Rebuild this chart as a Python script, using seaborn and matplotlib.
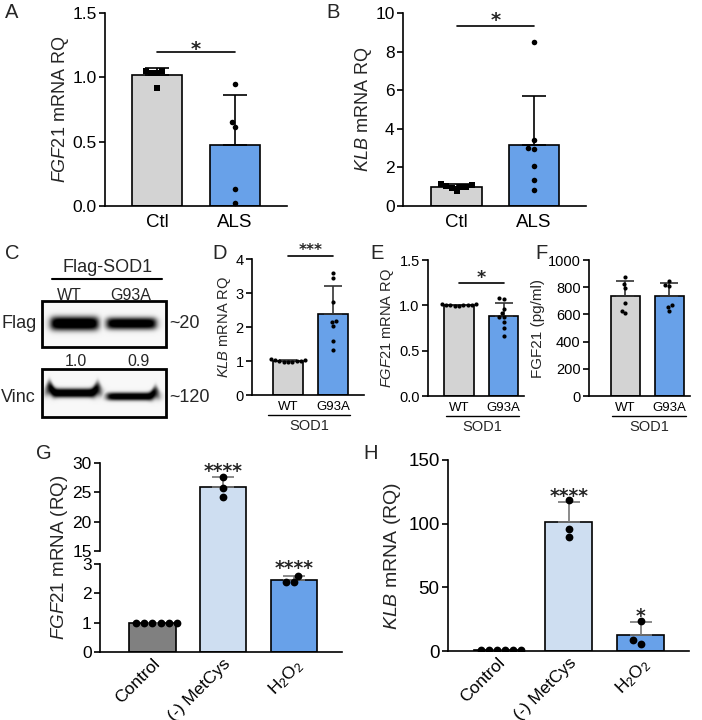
import warnings
warnings.filterwarnings("ignore")
import numpy as np
import pandas as pd
import matplotlib
matplotlib.use("Agg")
import matplotlib.pyplot as plt
import seaborn as sns

# ---------------- data ----------------
A_groups = ["Ctl", "ALS"]
A_ctl = [1.05, 1.03, 1.03, 1.05, 0.915]
A_als = [0.946, 0.616, 0.655, 0.130, 0.026]

B_groups = ["Ctl", "ALS"]
B_ctl = [1.00, 1.10, 0.95, 1.05, 1.15, 0.78, 1.00]
B_als = [8.49, 3.41, 3.03, 2.95, 2.06, 1.37, 0.85]

SOD_groups = ["WT", "G93A"]
D_wt = [1.03, 0.98, 1.00, 0.97, 1.02, 0.99, 1.05, 0.96, 1.00]
D_g93a = [3.59, 3.44, 2.75, 2.18, 2.14, 2.02, 1.59, 1.31]
E_wt = [1.01, 1.00, 0.99, 1.00, 1.01, 1.00, 0.99, 1.00, 1.00]
E_g93a = [1.066, 1.077, 0.956, 0.912, 0.868, 0.868, 0.813, 0.747, 0.659]
F_wt = [876, 824, 795, 684, 611, 625]
F_g93a = [846, 817, 809, 670, 655, 625]

T_groups = ["Control", "(-) MetCys", "H$_2$O$_2$"]
G_ctrl = [1.0, 1.0, 1.0, 1.0, 1.0, 1.0]
G_met = [27.6, 25.74, 24.2]
G_h2o2 = [2.37, 2.60, 2.40]
H_ctrl = [1.0, 1.0, 1.0, 1.0, 1.0, 1.0]
H_met = [118.7, 95.8, 89.6]
H_h2o2 = [23.9, 5.7, 8.3]

blot_lanes = ["WT", "G93A"]
blot_ratio = ["1.0", "0.9"]

# ---------------- style ----------------
GRAY = "#d3d3d3"
BLUE = "#529eff"
LBLUE = "#c8ddf7"
DGRAY = "#808080"

sns.set_theme(style="ticks")
plt.rcParams["font.family"] = ["Liberation Sans", "DejaVu Sans"]
plt.rcParams["mathtext.fontset"] = "custom"
plt.rcParams["mathtext.rm"] = "Liberation Sans"
plt.rcParams["mathtext.it"] = "Liberation Sans:italic"
plt.rcParams["axes.unicode_minus"] = False

W, H = 702, 720
fig = plt.figure(figsize=(W / 100, H / 100), dpi=100)


def rect(l, r, t, b):
    return [l / W, 1 - b / H, (r - l) / W, (b - t) / H]


def make_df(groups, lists):
    return pd.DataFrame({
        "group": np.repeat(groups, [len(v) for v in lists]),
        "value": np.concatenate([np.asarray(v, float) for v in lists]),
    })


def panel(ax, groups, lists, colors, markers, width, dsize, ecolor, capsize):
    df = make_df(groups, lists)
    sns.barplot(data=df, x="group", y="value", hue="group", order=groups,
                hue_order=groups, palette=colors, errorbar=None, width=width,
                edgecolor="black", linewidth=1.2, legend=False, ax=ax, zorder=1)
    st = df.groupby("group", sort=False)["value"].agg(["mean", "std"])
    for i, g in enumerate(groups):
        ax.errorbar(i, st.loc[g, "mean"], yerr=[[0], [st.loc[g, "std"]]],
                    color=ecolor, capsize=capsize, elinewidth=1.2,
                    capthick=1.2, zorder=2)
    for mk in sorted(set(markers)):
        keep = [g for g, m in zip(groups, markers) if m == mk]
        sub = df[df["group"].isin(keep)]
        sns.swarmplot(data=sub, x="group", y="value", order=groups,
                      color="black", marker=mk, size=dsize, ax=ax,
                      zorder=3, linewidth=0)
    ax.set_xlabel("")
    ax.set_ylabel("")
    return df


def style(ax, yfs, xfs, xpad=3):
    sns.despine(ax=ax)
    for s in ("left", "bottom"):
        ax.spines[s].set_linewidth(1.2)
        ax.spines[s].set_color("black")
    ax.tick_params(axis="y", labelsize=yfs, width=1.2, length=4,
                   color="black", labelcolor="black", pad=2)
    ax.tick_params(axis="x", labelsize=xfs, length=0, pad=xpad,
                   labelcolor="black")


def sig(ax, y_line, y_star, text, fs, x0=0, x1=1):
    if y_line is not None:
        ax.plot([x0, x1], [y_line, y_line], color="black", lw=1.2,
                clip_on=False)
    # place the centre of the asterisk glyphs at y_star
    ax.annotate(text, xy=((x0 + x1) / 2, y_star), xytext=(0, -0.62 * fs),
                textcoords="offset points", ha="center", va="baseline",
                fontsize=fs, fontweight="bold", family="DejaVu Sans",
                annotation_clip=False)


# ---------------- A ----------------
axA = fig.add_axes(rect(105, 287, 13, 206))
panel(axA, A_groups, [A_ctl, A_als], [GRAY, BLUE], ["s", "o"], 0.64, 4.0,
      "black", 8.5)
axA.set_xlim(-0.67, 1.67)
axA.set_ylim(0, 1.5)
axA.set_yticks([0, 0.5, 1.0, 1.5])
axA.set_yticklabels(["0.0", "0.5", "1.0", "1.5"])
axA.set_ylabel(r"$\mathit{FGF21}$ mRNA RQ", fontsize=13, labelpad=1)
style(axA, 12.5, 13.5, xpad=6)
sig(axA, 1.196, 1.27, "*", 14)

# ---------------- B ----------------
axB = fig.add_axes(rect(403, 586, 13, 206))
panel(axB, B_groups, [B_ctl, B_als], [GRAY, BLUE], ["s", "o"], 0.65, 4.0,
      "black", 8.5)
axB.set_xlim(-0.69, 1.67)
axB.set_ylim(0, 10)
axB.set_yticks([0, 2, 4, 6, 8, 10])
axB.set_ylabel(r"$\mathit{KLB}$ mRNA RQ", fontsize=13, labelpad=1)
style(axB, 12.5, 13.5, xpad=6)
sig(axB, 9.31, 9.95, "*", 14)

# ---------------- C (blot) ----------------
axC = fig.add_axes(rect(0, 250, 250, 440))
axC.axis("off")


def sigm(z):
    return 1 / (1 + np.exp(-z))


def band(X, Y, x0, x1, yc, half, dark, curl_l=0.0, curl_r=0.0):
    yc_x = (yc - curl_l * np.exp(-((X - x0 - 2) / 4.0) ** 2)
            - curl_r * np.exp(-((X - x1 + 2) / 4.0) ** 2))
    thick = half * (1 + 0.6 * (curl_l > 0) * np.exp(-((X - x0 - 2) / 5.0) ** 2)
                    + 0.6 * (curl_r > 0) * np.exp(-((X - x1 + 2) / 5.0) ** 2))
    prof = np.exp(-np.abs((Y - yc_x) / thick) ** 2.5)
    edge = sigm((X - x0) / 2.0) * sigm((x1 - X) / 2.0)
    return dark * prof * edge


def blot_box(y0, y1, bands):
    xs = np.linspace(42, 166, 372)
    ys = np.linspace(y0, y1, int((y1 - y0) * 3))
    X, Y = np.meshgrid(xs, ys)
    inten = np.zeros_like(X)
    for b in bands:
        inten = np.maximum(inten, band(X, Y, *b))
    img = 0.97 - 0.97 * np.clip(1.25 * inten, 0, 1)
    axC.imshow(img, cmap="gray", vmin=0, vmax=1, extent=(42, 166, y1, y0),
               aspect="auto", interpolation="bilinear", zorder=1)
    axC.add_patch(plt.Rectangle((42, y0), 124, y1 - y0, fill=False,
                                lw=2.0, ec="black", zorder=2))


blot_box(301, 347, [(51, 98, 323.5, 7.0, 1.0), (107, 156, 323.5, 6.0, 0.95)])
blot_box(369, 417, [(47, 100, 393, 4.5, 1.0, 5, 4),
                    (107, 158, 396.5, 4.0, 0.95, 0, 4)])
axC.set_xlim(0, 250)
axC.set_ylim(440, 250)

axC.text(108, 267, "Flag-SOD1", ha="center", va="center", fontsize=13)
axC.plot([52, 162], [279, 279], color="black", lw=1.5)
for xc, lab in zip([69, 131], blot_lanes):
    axC.text(xc, 295, lab, ha="center", va="center", fontsize=11.5)
for xc, lab in zip([76, 138], blot_ratio):
    axC.text(xc, 362, lab, ha="center", va="center", fontsize=11.5)
axC.text(19, 324, "Flag", ha="center", va="center", fontsize=13)
axC.text(184, 324, "~20", ha="center", va="center", fontsize=13)
axC.text(18, 397, "Vinc", ha="center", va="center", fontsize=13)
axC.text(190, 397, "~120", ha="center", va="center", fontsize=13)

# ---------------- D/E/F ----------------
def sod_axis(ax, x0, x1):
    tr = ax.get_xaxis_transform()
    ax.plot([x0, x1], [-0.145, -0.145], transform=tr, color="black", lw=1.0,
            clip_on=False)
    ax.text((x0 + x1) / 2, -0.18, "SOD1", transform=tr, ha="center",
            va="top", fontsize=10.5)


axD = fig.add_axes(rect(252, 364, 259, 395))
panel(axD, SOD_groups, [D_wt, D_g93a], [GRAY, BLUE], ["o", "o"], 0.66, 3.0,
      "#333333", 6.5)
axD.set_xlim(-0.8, 1.69)
axD.set_ylim(0, 4)
axD.set_yticks([0, 1, 2, 3, 4])
axD.set_ylabel(r"$\mathit{KLB}$ mRNA RQ", fontsize=10.5, labelpad=2)
style(axD, 10.5, 9.5, xpad=4)
sod_axis(axD, -0.45, 1.38)
sig(axD, 4.1, 4.4, "***", 11)

axE = fig.add_axes(rect(428, 524, 260, 396))
panel(axE, SOD_groups, [E_wt, E_g93a], [GRAY, BLUE], ["o", "o"], 0.67, 3.0,
      "#333333", 6.5)
axE.set_xlim(-0.70, 1.46)
axE.set_ylim(0, 1.5)
axE.set_yticks([0, 0.5, 1.0, 1.5])
axE.set_yticklabels(["0.0", "0.5", "1.0", "1.5"])
axE.set_ylabel(r"$\mathit{FGF21}$ mRNA RQ", fontsize=10.5, labelpad=2)
style(axE, 10.5, 9.5, xpad=4)
sod_axis(axE, -0.3, 1.35)
sig(axE, 1.25, 1.37, "*", 12.5)

axF = fig.add_axes(rect(589, 690, 260, 396))
panel(axF, SOD_groups, [F_wt, F_g93a], [GRAY, BLUE], ["o", "o"], 0.66, 3.0,
      "#333333", 6.5)
axF.set_xlim(-0.83, 1.47)
axF.set_ylim(0, 1000)
axF.set_yticks([0, 200, 400, 600, 800, 1000])
axF.set_ylabel("FGF21 (pg/ml)", fontsize=11, labelpad=2)
style(axF, 10.5, 9.5, xpad=4)
sod_axis(axF, -0.3, 1.37)

# ---------------- G (broken axis) ----------------
gap_half = 6.5
up_lo = 15 - gap_half * 15 / 88
lo_hi = 3 + gap_half * 3 / 88
axGu = fig.add_axes(rect(100, 342, 463, 551 + gap_half))
axGl = fig.add_axes(rect(100, 342, 564 - gap_half, 652))
for ax in (axGu, axGl):
    panel(ax, T_groups, [G_ctrl, G_met, G_h2o2], [DGRAY, LBLUE, BLUE],
          ["o", "o", "o"], 0.66, 5.6, "#777777", 8)
    ax.set_xlim(-0.74, 2.68)
    style(ax, 12.5, 12.5)
axGu.set_ylim(up_lo, 30)
axGu.set_yticks([15, 20, 25, 30])
axGu.spines["left"].set_bounds(15, 30)
axGu.spines["bottom"].set_visible(False)
axGu.set_xticks([])
axGl.set_ylim(0, lo_hi)
axGl.set_yticks([0, 1, 2, 3])
axGl.spines["left"].set_bounds(0, 3)
axGl.set_xticks(range(3))
axGl.set_xticklabels(T_groups, rotation=45, ha="right",
                     rotation_mode="anchor")
sig(axGu, None, 29.6, "****", 13.5, 1, 1)
sig(axGl, None, 3.05, "****", 13.5, 2, 2)
fig.text(60 / W, 1 - 557 / H, r"$\mathit{FGF21}$ mRNA (RQ)", rotation=90,
         ha="center", va="center", fontsize=13.5)

# ---------------- H ----------------
axH = fig.add_axes(rect(448, 689, 460, 651))
panel(axH, T_groups, [H_ctrl, H_met, H_h2o2], [DGRAY, LBLUE, BLUE],
      ["o", "o", "o"], 0.65, 5.6, "#777777", 8)
axH.set_xlim(-0.68, 2.67)
axH.set_ylim(0, 150)
axH.set_yticks([0, 50, 100, 150])
style(axH, 13.5, 12.5)
axH.set_xticks(range(3))
axH.set_xticklabels(T_groups, rotation=45, ha="right", rotation_mode="anchor")
axH.set_ylabel(r"$\mathit{KLB}$ mRNA (RQ)", fontsize=14, labelpad=4)
sig(axH, None, 126, "****", 13.5, 1, 1)
sig(axH, None, 32, "*", 13.5, 2, 2)

# ---------------- panel letters ----------------
for lab, x, y in [("A", 5, 3), ("B", 326, 3), ("C", 5, 244), ("D", 212, 244),
                  ("E", 370, 244), ("F", 535, 244), ("G", 36, 444),
                  ("H", 363, 444)]:
    fig.text(x / W, 1 - y / H, lab, ha="left", va="top", fontsize=14.5)

fig.savefig("out.png", dpi=100)
